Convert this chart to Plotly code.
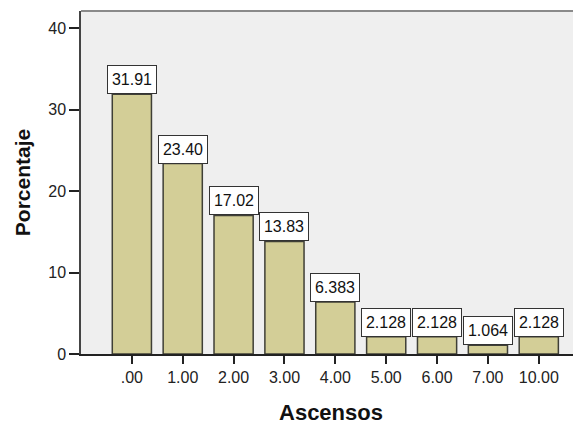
import plotly.graph_objects as go

categories = [".00", "1.00", "2.00", "3.00", "4.00", "5.00", "6.00", "7.00", "10.00"]
porcentaje = [31.91, 23.40, 17.02, 13.83, 6.383, 2.128, 2.128, 1.064, 2.128]
labels = ["31.91", "23.40", "17.02", "13.83", "6.383", "2.128", "2.128", "1.064", "2.128"]
y_ticks = [0, 10, 20, 30, 40]

positions = list(range(len(categories)))

fig = go.Figure()
fig.add_trace(go.Bar(
    x=positions, y=porcentaje, width=0.77,
    marker=dict(color="#D3CE97", line=dict(color="#3f3f36", width=1.5)),
    hoverinfo="skip", showlegend=False,
))

for p, v, t in zip(positions, porcentaje, labels):
    fig.add_annotation(
        x=p, y=v, text=t, showarrow=False, xanchor="center", yanchor="bottom",
        font=dict(family="Arial, Liberation Sans", size=16, color="#111"),
        bgcolor="white", bordercolor="#333", borderwidth=1, borderpad=1,
        width=46, height=25,
    )

fig.add_shape(type="line", xref="paper", yref="paper", x0=0, x1=1, y0=1, y1=1,
              line=dict(color="#8a8a8a", width=2))

fig.update_layout(
    width=573, height=418,
    margin=dict(l=73, r=0, t=3, b=72),
    paper_bgcolor="white", plot_bgcolor="#EFEFEF",
    font=dict(family="Arial, Liberation Sans", size=16, color="#222"),
    xaxis=dict(
        range=[-1.0, 8.83], tickvals=positions, ticktext=categories,
        showgrid=False, zeroline=False,
        showline=True, linecolor="#222", linewidth=1.5,
        ticks="outside", ticklen=8, tickwidth=1.5, tickcolor="#222",
        tickfont=dict(size=16, color="#222"),
        title=dict(text="<b>Ascensos</b>", font=dict(size=22, color="#111"), standoff=20),
    ),
    yaxis=dict(
        range=[0, 42.14], tickvals=y_ticks, showgrid=False, zeroline=False,
        showline=True, linecolor="#444", linewidth=1.5,
        ticks="outside", ticklen=10, tickwidth=1.5, tickcolor="#222",
        tickfont=dict(size=16, color="#222"),
        title=dict(text="<b>Porcentaje</b>", font=dict(size=21, color="#111"), standoff=12),
    ),
)

fig.write_html("out.html")
